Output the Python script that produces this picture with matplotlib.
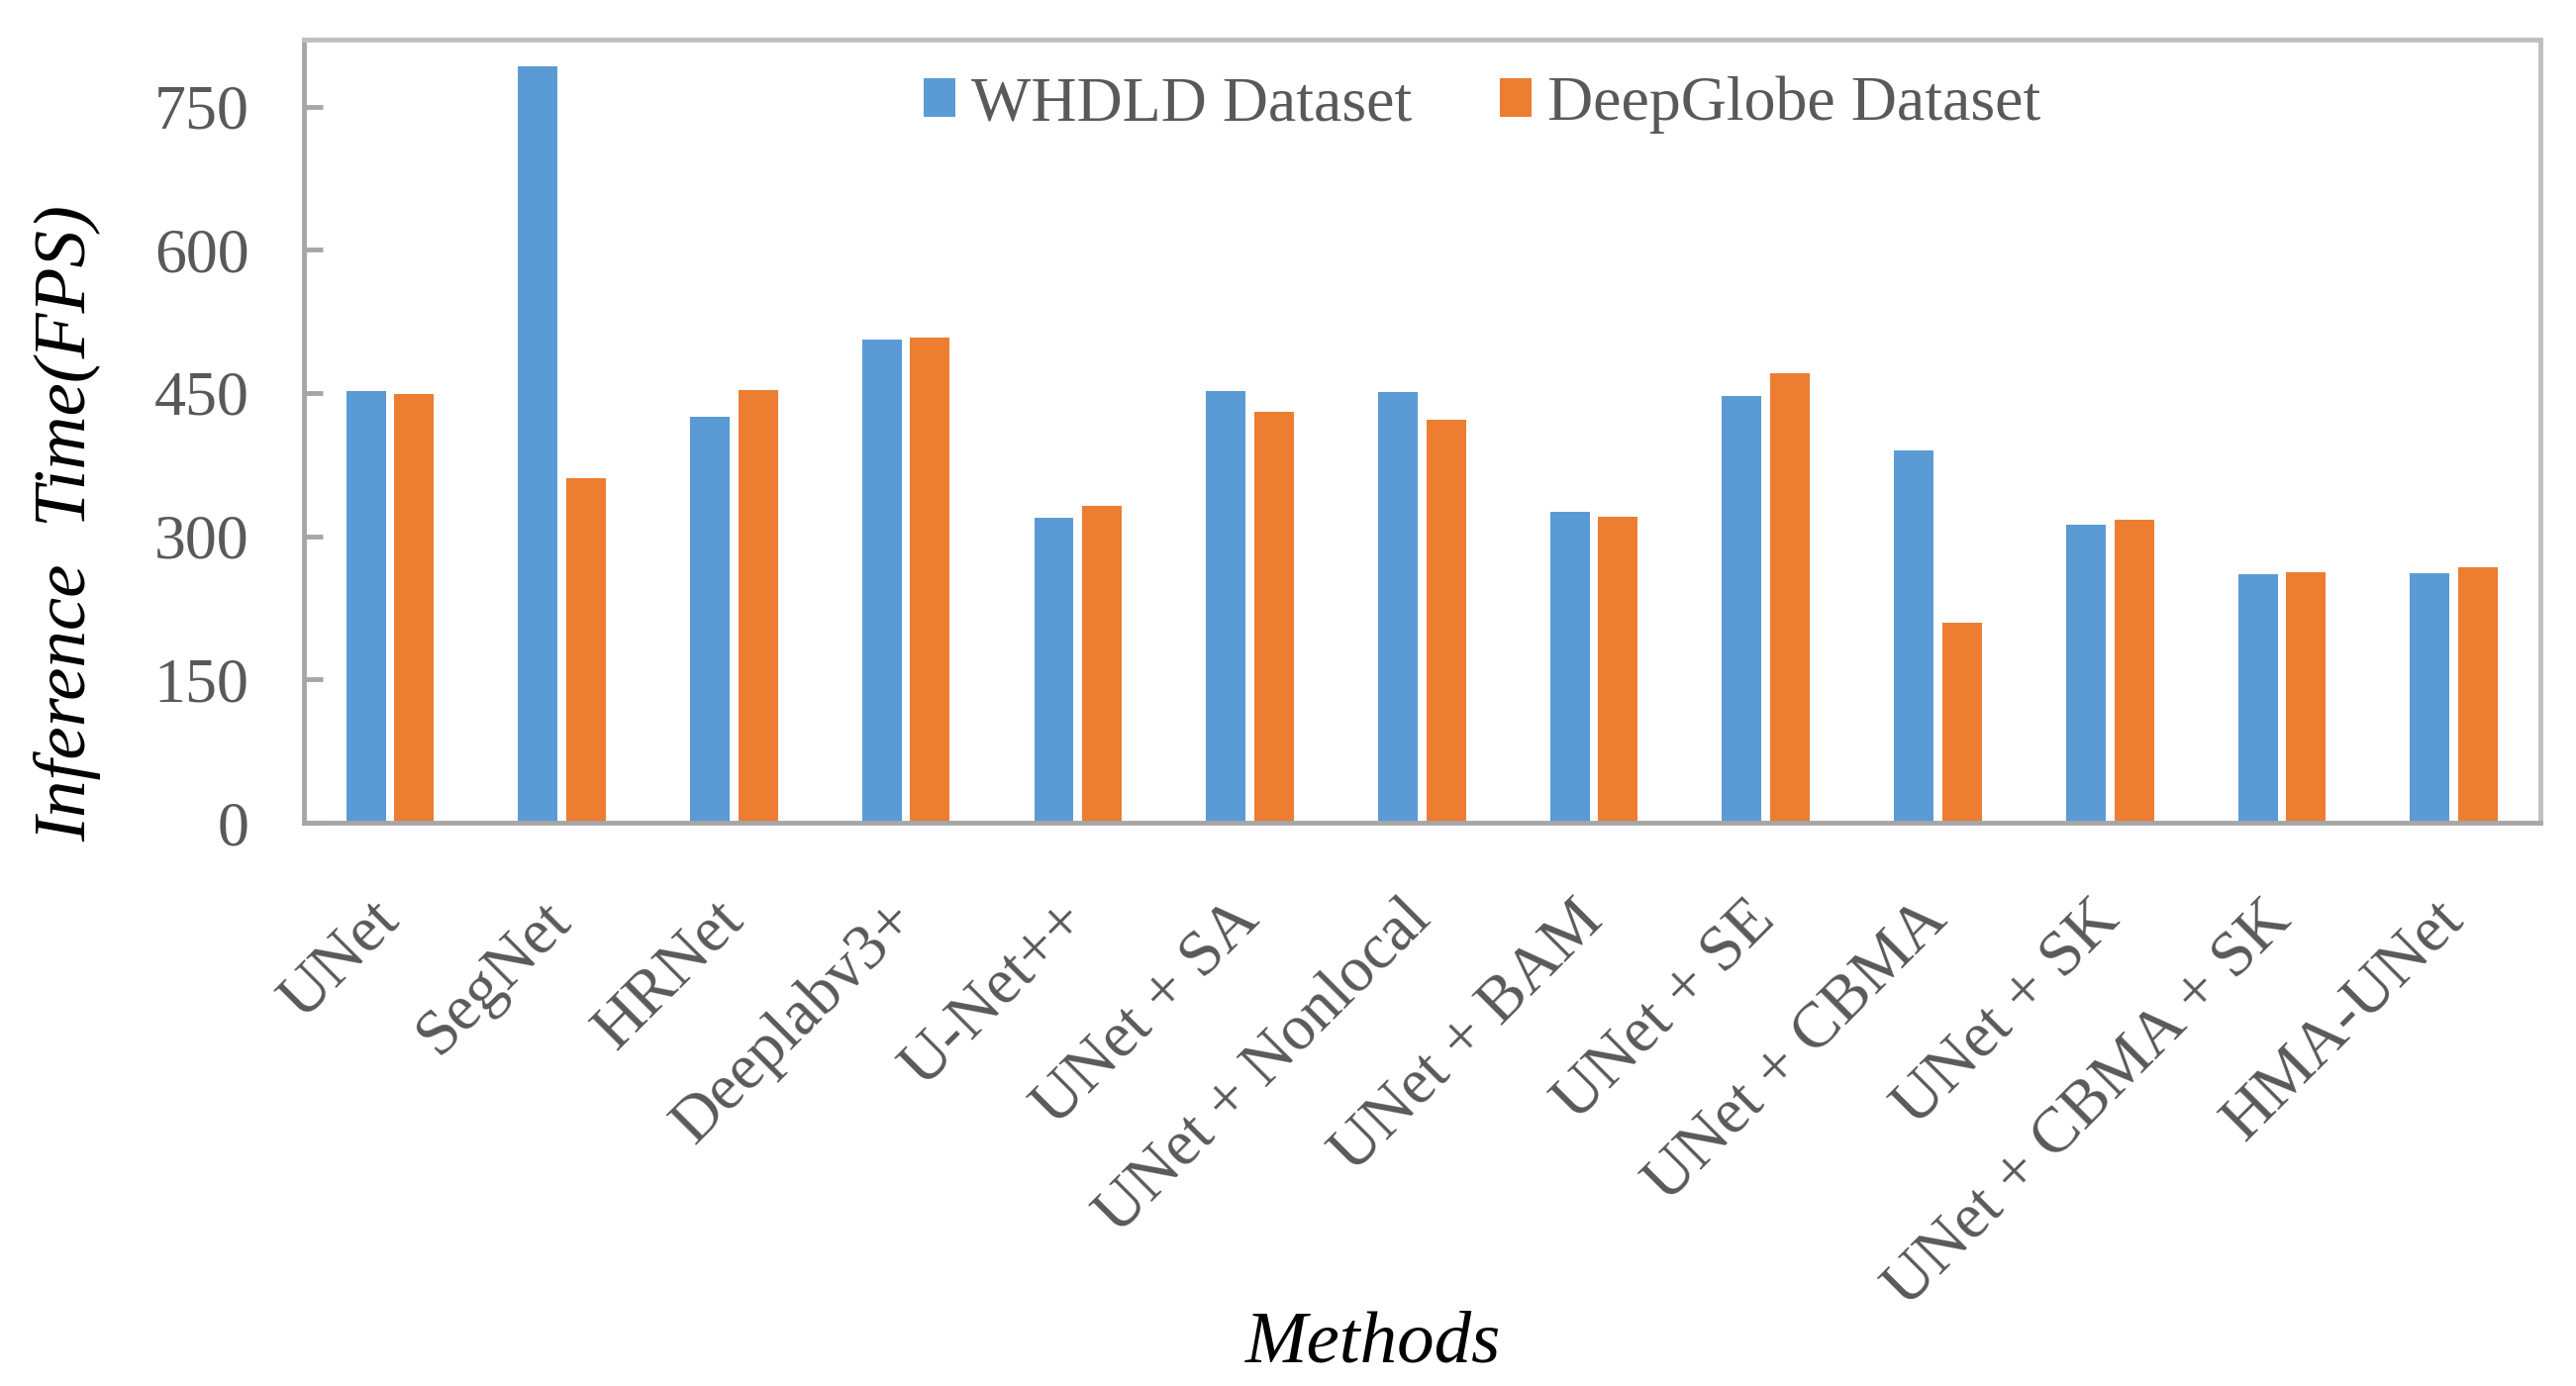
import numpy as np
import matplotlib.pyplot as plt

methods = ['UNet', 'SegNet', 'HRNet', 'Deeplabv3+', 'U-Net++', 'UNet + SA',
           'UNet + Nonlocal', 'UNet + BAM', 'UNet + SE', 'UNet + CBMA',
           'UNet + SK', 'UNet + CBMA + SK', 'HMA-UNet']
whdld = [452, 792, 425, 506, 319, 452, 451, 326, 447, 390, 312, 260, 261]
deepglobe = [449, 361, 453, 508, 332, 430, 422, 320, 471, 209, 317, 262, 267]
yticks = [0, 150, 300, 450, 600, 750]

plt.rcParams['font.family'] = ['Liberation Serif', 'DejaVu Serif']
grey = '#595959'

fig = plt.figure(figsize=(26.02, 14), dpi=100)
ax = fig.add_axes([0.118, 0.4064, 0.868, 0.565])

x = np.arange(len(methods))
w = 0.23
ax.bar(x - 0.14, whdld, w, color='#5B9BD5', label='WHDLD Dataset')
ax.bar(x + 0.14, deepglobe, w, color='#ED7D31', label='DeepGlobe Dataset')

ax.set_xlim(-0.5, len(methods) - 0.5)
ax.set_ylim(0, 820)
ax.set_yticks(yticks)
ax.set_yticklabels([str(v) for v in yticks], fontsize=46, color=grey)
ax.tick_params(axis='y', direction='in', length=14, width=3.5, color='#A6A6A6', pad=40)

ax.set_xticks(x)
ax.set_xticklabels(methods, rotation=45, ha='right', va='center',
                   rotation_mode='anchor', fontsize=47, color=grey)
ax.tick_params(axis='x', length=0, pad=64)

for s in ['top', 'right']:
    ax.spines[s].set_color('#BFBFBF')
    ax.spines[s].set_linewidth(3.5)
for s in ['left', 'bottom']:
    ax.spines[s].set_color('#A6A6A6')
    ax.spines[s].set_linewidth(3.5)

fig.text(68 / 2602, 1 - 528 / 1400, 'Inference  Time(FPS)', rotation=90,
         ha='center', va='center', fontsize=54, style='italic', color='black')
fig.text(1387 / 2602, 1 - 1358 / 1400, 'Methods', ha='center', va='center',
         fontsize=54, style='italic', color='black')

leg = ax.legend(loc='center', bbox_to_anchor=(1497 / 2602, 1 - 106 / 1400),
                bbox_transform=fig.transFigure, ncol=2, frameon=False,
                fontsize=46, handlelength=0.5, handleheight=0.55,
                handletextpad=0.25, columnspacing=1.4)
for t in leg.get_texts():
    t.set_color(grey)

fig.savefig('out.png', dpi=100, facecolor='white')
